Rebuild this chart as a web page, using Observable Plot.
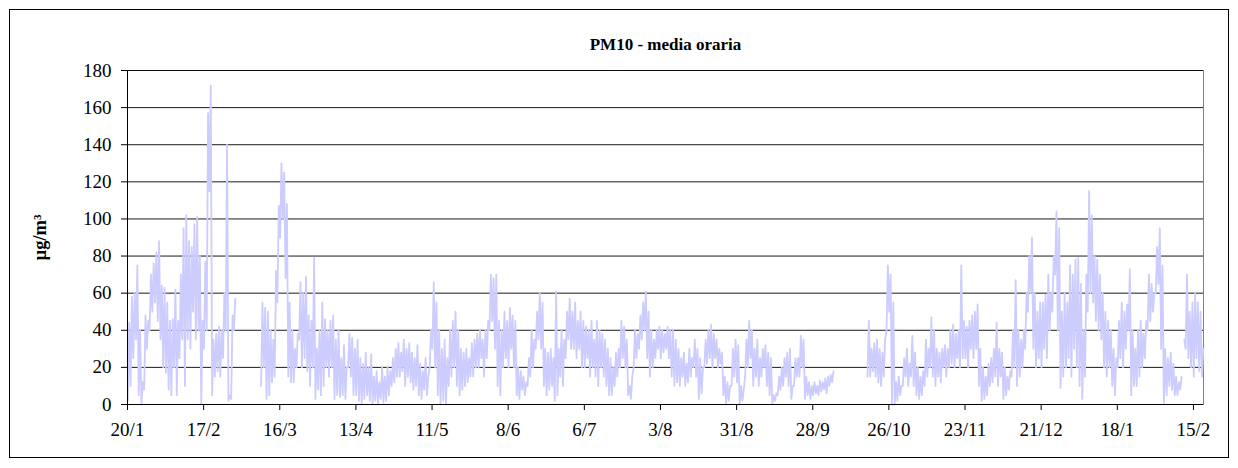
<!DOCTYPE html>
<html>
<head>
<meta charset="utf-8">
<script src="https://cdn.jsdelivr.net/npm/d3@7"></script>
<script src="https://cdn.jsdelivr.net/npm/@observablehq/plot@0.6"></script>
<style>
  body { margin: 0; background: #fff; }
  #wrap { position: relative; width: 1238px; height: 468px; }
  #border { position: absolute; left: 9px; top: 9px; width: 1218px; height: 447px; border: 1px solid #000; pointer-events: none; }
</style>
</head>
<body>
<div id="wrap"><div id="border"></div></div>
<script>
const title = "PM10 - media oraria";
const yLabel = "µg/m³";
const startDay = [2004, 0, 20];
const tickLabels = ["20/1","17/2","16/3","13/4","11/5","8/6","6/7","3/8","31/8","28/9","26/10","23/11","21/12","18/1","15/2"];
const yTicks = [0,20,40,60,80,100,120,140,160,180];
const spanDays = 395.7;

// 20/1 - 16/2
const p01 = [2,44, 10,58, 25,60, 35,75, 5,40, 0,12, 8,48, 30,45, 40,70, 50,76, 55,82, 45,88, 35,64, 20,63,
  17,55, 8,45, 5,46, 20,62, 5,45, 25,70, 35,95, 10,102, 35,88, 30,85, 50,97, 35,101, 40,80, 0,45];
// 17/2 - 15/3
const p02 = [30,77, 40,157, 115,172, 5,35, 15,38, 18,42, 15,40, 25,60, 40,140, 2,5, 3,48, 40,57,
  null,null, null,null, null,null, null,null, null,null, null,null, null,null, null,null, null,null,
  10,55, 20,52, 3,50, 5,40, 12,35, 15,72, 55,107];
// 16/3 - 12/4
const p03 = [90,130, 100,125, 68,108, 15,55, 12,40, 12,30, 20,38, 35,66, 20,60, 25,69, 18,48, 10,45, 20,79, 3,30,
  8,40, 5,55, 10,46, 20,40, 15,45, 20,48, 3,35, 5,40, 4,25, 5,32, 3,20, 20,38, 15,36, 5,30];
// 13/4 - 10/5
const p04 = [5,35, 2,25, 0,22, 3,28, 5,20, 2,27, 0,15, 2,18, 0,12, 3,20, 1,15, 2,20, 5,18, 10,25,
  12,30, 15,33, 15,28, 18,35, 10,30, 15,33, 12,28, 8,25, 10,32, 5,22, 3,18, 8,25, 5,15, 20,40];
// 11/5 - 7/6
const p05 = [30,66, 20,55, 5,40, 0,30, 2,35, 0,25, 10,40, 15,45, 20,50, 10,40, 5,30, 8,28, 10,30, 12,25,
  15,33, 15,35, 20,38, 20,40, 25,35, 15,40, 25,45, 40,70, 45,68, 30,70, 10,45, 5,40, 20,50, 25,45];
// 8/6 - 5/7
const p06 = [20,52, 30,48, 20,45, 5,20, 3,18, 8,15, 5,12, 10,25, 15,40, 20,35, 30,50, 35,60, 30,55, 10,30,
  5,28, 8,30, 10,25, 2,61, 5,30, 15,40, 10,35, 25,50, 35,57, 30,50, 30,55, 25,45, 30,50, 20,45];
// 6/7 - 2/8
const p07 = [20,42, 25,40, 15,45, 20,35, 15,45, 10,40, 20,38, 15,35, 10,30, 5,25, 5,20, 10,28, 15,30, 20,45,
  25,42, 20,35, 5,10, 3,15, 20,40, 25,38, 30,48, 35,55, 40,61, 25,50, 15,40, 20,35, 25,40, 30,42];
// 3/8 - 30/8
const p08 = [25,40, 28,38, 30,42, 25,40, 15,40, 10,35, 12,30, 10,25, 15,28, 10,22, 12,30, 15,25, 20,35, 15,30,
  3,25, 6,20, 20,35, 22,40, 25,43, 20,38, 25,35, 20,30, 22,28, 5,15, 0,12, 2,10, 10,30, 15,35];
// 31/8 - 27/9
const p09 = [12,32, 0,10, 2,8, 15,35, 20,45, 25,40, 10,30, 15,35, 10,25, 15,30, 20,32, 10,28, 5,25, 0,5,
  2,6, 5,15, 8,20, 10,25, 15,28, 10,30, 3,10, 10,25, 15,25, 15,37, 20,35, 3,15, 5,12, 3,10];
// 28/9 - 25/10
const p10 = [5,12, 6,10, 5,13, 7,12, 8,14, 6,15, 10,16, 12,18,
  null,null, null,null, null,null, null,null, null,null, null,null, null,null, null,null, null,null, null,null, null,null, null,null,
  15,45, 15,30, 18,33, 15,35, 12,30, 10,28, 15,35, 40,75];
// 26/10 - 22/11
const p11 = [50,70, 0,55, 0,12, 2,15, 5,10, 10,25, 15,30, 10,22, 15,37, 10,28, 5,20, 3,15, 5,18, 10,35,
  15,30, 20,47, 15,40, 10,30, 15,28, 12,30, 20,32, 15,30, 20,40, 22,43, 20,38, 25,40, 20,75, 25,45];
// 23/11 - 20/12
const p12 = [25,42, 20,45, 30,48, 25,50, 30,54, 10,30, 2,20, 3,15, 5,22, 10,25, 12,30, 15,44, 10,30, 15,28,
  3,20, 5,15, 8,18, 15,40, 20,67, 10,40, 15,35, 20,40, 30,60, 50,80, 60,90, 30,60, 20,50, 25,55];
// 21/12 - 17/1
const p13 = [20,55, 30,59, 25,70, 40,60, 50,80, 70,104, 40,95, 9,50, 15,60, 20,55, 25,75, 15,70, 30,78, 20,79,
  10,65, 3,40, 15,70, 50,115, 60,102, 55,80, 45,78, 40,70, 35,60, 20,50, 15,45, 20,40, 10,30, 5,25];
// 18/1 - 14/2
const p14 = [20,45, 25,55, 20,50, 30,54, 40,73, 5,40, 10,30, 10,40, 15,45, 20,38, 25,45, 40,70, 45,65, 50,60,
  60,85, 65,95, 30,75, 1,30, 5,25, 10,28, 8,22, 5,15, 5,12, 8,15, null,35, 30,70, 25,50, 20,55];
// 15/2 - 18/2
const p15 = [15,60, 25,55, 18,50, 15,30];

const periods = [p01,p02,p03,p04,p05,p06,p07,p08,p09,p10,p11,p12,p13,p14,p15];
const values = periods.flat();

const DAY = 864e5;
const t0 = Date.UTC(...startDay);
const data = values.map((v, i) => ({
  t: new Date(t0 + i * DAY / 2 + 3 * 3600e3),
  v: v == null ? NaN : v
}));
const tickDates = tickLabels.map((_, k) => new Date(t0 + k * 28 * DAY));
const labelMap = new Map(tickDates.map((d, k) => [+d, tickLabels[k]]));

const font = "'Liberation Serif', 'Times New Roman', serif";

const chart = Plot.plot({
  width: 1238,
  height: 468,
  marginLeft: 127,
  marginRight: 35,
  marginTop: 70,
  marginBottom: 64,
  style: { fontFamily: font, fontSize: "19px", color: "#000", background: "transparent", overflow: "visible" },
  x: { type: "utc", domain: [new Date(t0), new Date(t0 + spanDays * DAY)] },
  y: { domain: [0, 180] },
  marks: [
    Plot.frame({ stroke: "#808080", strokeWidth: 1 }),
    Plot.gridY(yTicks.filter(d => d > 0), { stroke: "#000", strokeOpacity: 0.9, strokeWidth: 1 }),
    Plot.lineY(data, { x: "t", y: "v", stroke: "#ccccff", strokeWidth: 1.8 }),
    Plot.ruleY([0], { stroke: "#000", strokeWidth: 1 }),
    Plot.ruleX([new Date(t0)], { stroke: "#000", strokeWidth: 1 }),
    Plot.axisY({ ticks: yTicks, tickSize: 6, tickPadding: 10, label: null, stroke: "#000", fill: "#000" }),
    Plot.axisX({ ticks: tickDates, tickFormat: d => labelMap.get(+d), tickSize: 6, tickPadding: 12, label: null, stroke: "#000", fill: "#000" }),
    Plot.text([title], { frameAnchor: "top", lineAnchor: "middle", dy: -26, fontWeight: "bold", fontSize: 17, fill: "#000" }),
    Plot.text([yLabel], { frameAnchor: "left", textAnchor: "middle", lineAnchor: "middle", dx: -87, rotate: -90, fontWeight: "bold", fontSize: 18.5, fill: "#000" })
  ]
});
document.getElementById("wrap").prepend(chart);
</script>
</body>
</html>
